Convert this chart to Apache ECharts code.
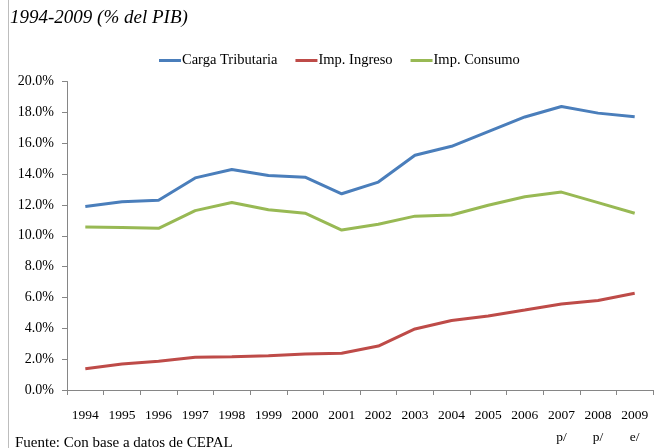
<!DOCTYPE html>
<html>
<head>
<meta charset="utf-8">
<script src="https://cdn.jsdelivr.net/npm/echarts@6/dist/echarts.min.js"></script>
<style>
  html, body { margin: 0; padding: 0; background: #fff; }
  #chart { width: 658px; height: 448px; }
</style>
</head>
<body>
<div id="chart"></div>
<script>
// Years (with projection / estimate marks) and tax series as % of GDP
const years = ['1994','1995','1996','1997','1998','1999','2000','2001','2002','2003','2004','2005','2006','2007\np/','2008\np/','2009\ne/'];
const cargaTributaria = [11.9, 12.2, 12.3, 13.75, 14.3, 13.9, 13.8, 12.72, 13.48, 15.22, 15.8, 16.75, 17.7, 18.38, 17.95, 17.72];
const impIngreso = [1.38, 1.68, 1.86, 2.12, 2.16, 2.22, 2.33, 2.38, 2.85, 3.96, 4.5, 4.8, 5.18, 5.57, 5.8, 6.27];
const impConsumo = [10.56, 10.53, 10.48, 11.63, 12.15, 11.69, 11.46, 10.37, 10.74, 11.27, 11.35, 11.98, 12.53, 12.83, 12.15, 11.46];
const yTicks = { min: 0, max: 20, interval: 2 };

const serif = '"Liberation Serif", "DejaVu Serif", serif';
const axisGray = '#868686';

const chart = echarts.init(document.getElementById('chart'), null, { renderer: 'canvas' });

function lineSeries(name, data, color) {
  return {
    name, type: 'line', data,
    symbol: 'none',
    lineStyle: { width: 3, color },
    itemStyle: { color },
    emphasis: { disabled: true }
  };
}

chart.setOption({
  animation: false,
  backgroundColor: '#fff',
  textStyle: { fontFamily: serif },
  legend: {
    top: 48,
    left: 154,
    itemWidth: 22,
    itemHeight: 3,
    itemGap: 18,
    icon: 'rect',
    textStyle: { fontFamily: serif, fontSize: 14.5, color: '#000', padding: [0, 0, 0, -4] },
    data: ['Carga Tributaria', 'Imp. Ingreso', 'Imp. Consumo']
  },
  grid: { left: 67, right: 5, top: 81.5, bottom: 56, containLabel: false },
  xAxis: {
    type: 'category',
    data: years,
    boundaryGap: true,
    axisLine: { lineStyle: { color: axisGray, width: 1 } },
    axisTick: { show: true, length: 5, inside: false, alignWithLabel: false, lineStyle: { color: axisGray } },
    axisLabel: { color: '#000', fontFamily: serif, fontSize: 13.5, margin: 14, lineHeight: 22, interval: 0 }
  },
  yAxis: {
    type: 'value',
    min: yTicks.min, max: yTicks.max, interval: yTicks.interval,
    axisLine: { show: true, lineStyle: { color: axisGray, width: 1 } },
    axisTick: { show: true, length: 5, lineStyle: { color: axisGray } },
    splitLine: { show: false },
    axisLabel: {
      color: '#000', fontFamily: serif, fontSize: 14, margin: 13,
      formatter: v => v.toFixed(1) + '%'
    }
  },
  series: [
    lineSeries('Carga Tributaria', cargaTributaria, '#4a7ebb'),
    lineSeries('Imp. Ingreso', impIngreso, '#be4b48'),
    lineSeries('Imp. Consumo', impConsumo, '#98b954')
  ],
  graphic: [
    { type: 'line', shape: { x1: 8.5, y1: 0, x2: 8.5, y2: 448 }, style: { stroke: '#bdbdbd', lineWidth: 1 } },
    { type: 'text', left: 10, top: 8, style: { text: '1994-2009 (% del PIB)', font: 'italic 19px ' + serif, fill: '#000' } },
    { type: 'text', left: 15, top: 436, style: { text: 'Fuente: Con base a datos de CEPAL', font: '15px ' + serif, fill: '#000' } }
  ]
});
</script>
</body>
</html>
